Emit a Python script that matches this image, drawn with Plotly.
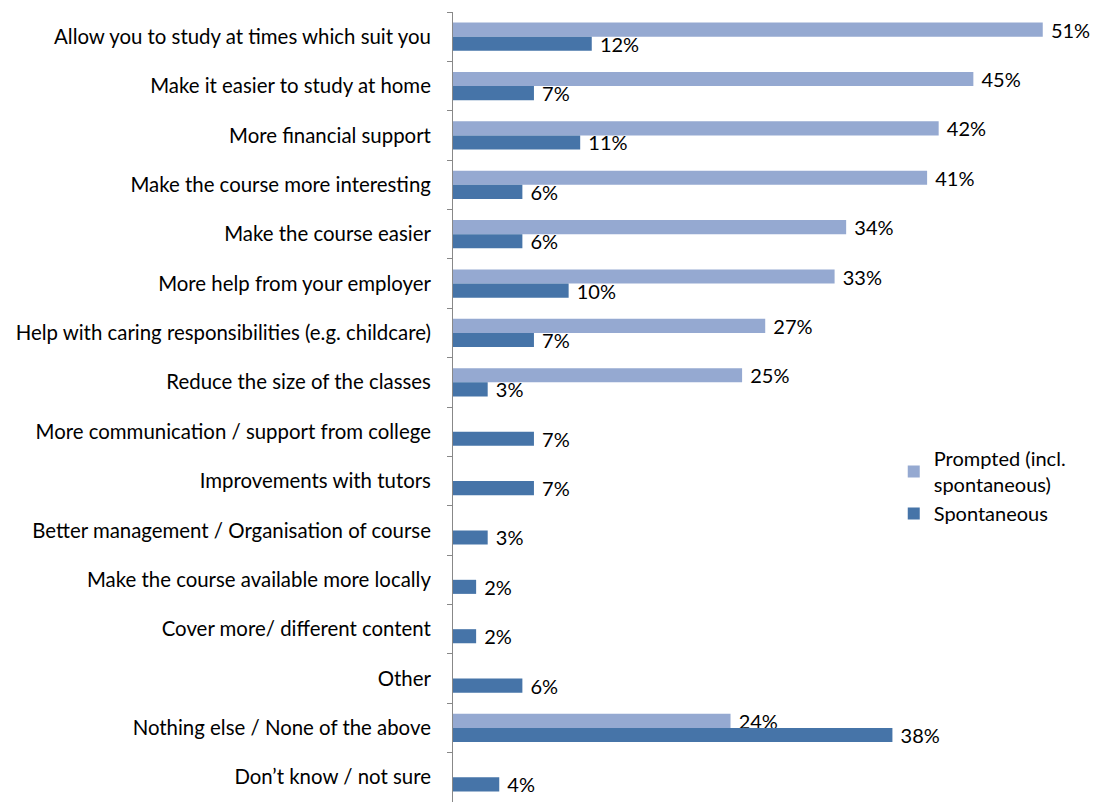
import plotly.graph_objects as go

categories = [
    "Allow you to study at times which suit you",
    "Make it easier to study at home",
    "More financial support",
    "Make the course more interesting",
    "Make the course easier",
    "More help from your employer",
    "Help with caring responsibilities (e.g. childcare)",
    "Reduce the size of the classes",
    "More communication / support from college",
    "Improvements with tutors",
    "Better management / Organisation of course",
    "Make the course available more locally",
    "Cover more/ different content",
    "Other",
    "Nothing else / None of the above",
    "Don\u2019t know / not sure",
]
prompted = [51, 45, 42, 41, 34, 33, 27, 25, None, None, None, None, None, None, 24, None]
spontaneous = [12, 7, 11, 6, 6, 10, 7, 3, 7, 7, 3, 2, 2, 6, 38, 4]

FONT = "Lato, Carlito, Calibri, sans-serif"
FS = 20.4
LIGHT = "#95A9D1"
DARK = "#4674A8"


def labels(vals):
    return [None if v is None else f" {v}%" for v in vals]


fig = go.Figure()
fig.add_trace(go.Bar(
    y=categories, x=prompted, orientation="h", name="Prompted (incl.<br>spontaneous)",
    marker=dict(color=LIGHT, line=dict(width=0)),
    text=labels(prompted), textposition="outside", cliponaxis=False,
    constraintext="none",
    textfont=dict(family=FONT, size=20, color="#000"),
))
fig.add_trace(go.Bar(
    y=categories, x=spontaneous, orientation="h", name="Spontaneous",
    marker=dict(color=DARK, line=dict(width=0)),
    text=labels(spontaneous), textposition="outside", cliponaxis=False,
    constraintext="none",
    textfont=dict(family=FONT, size=20, color="#000"),
))

fig.update_layout(
    width=1093, height=805,
    margin=dict(l=453, r=4, t=12, b=3),
    paper_bgcolor="white", plot_bgcolor="white",
    barmode="group", bargap=0.43, bargroupgap=0,
    font=dict(family=FONT, size=FS, color="#000"),
    legend=dict(
        x=0.693, y=0.40, xanchor="left", yanchor="middle",
        font=dict(family=FONT, size=20, color="#000"),
        bgcolor="rgba(0,0,0,0)", itemwidth=30, tracegroupgap=4,
    ),
    showlegend=True,
)
fig.update_xaxes(range=[0, 55], visible=False)
fig.update_yaxes(
    autorange="reversed", showline=True, linecolor="#888", linewidth=1,
    ticks="outside", ticklen=5, tickcolor="#888", tickson="boundaries",
    showgrid=False, zeroline=False, ticklabelstandoff=17,
    tickfont=dict(family=FONT, size=FS, color="#000"),
)

fig.write_html("out.html")
